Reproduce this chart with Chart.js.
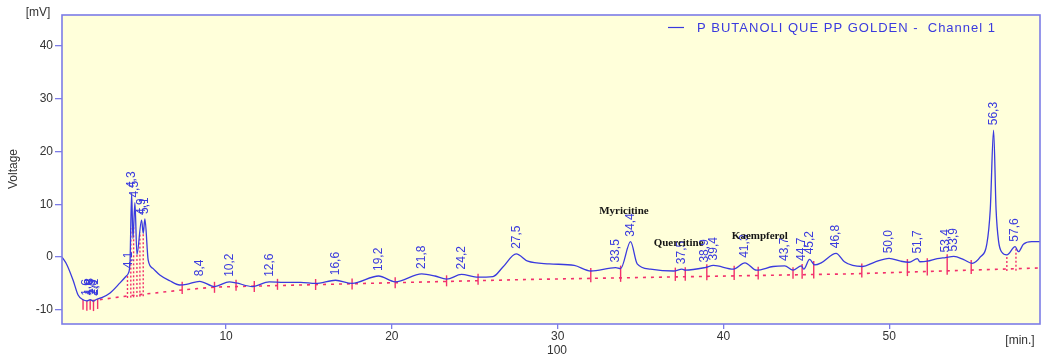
<!DOCTYPE html>
<html>
<head>
<meta charset="utf-8">
<script src="https://cdn.jsdelivr.net/npm/chart.js@4.4.1/dist/chart.umd.min.js"></script>
<style>
  html, body { margin: 0; padding: 0; background: #ffffff; }
  canvas { display: block; }
</style>
</head>
<body>
<canvas id="chrom" width="1042" height="358"></canvas>
<script>
// Channel name shown in the legend
const seriesName = 'P BUTANOLI QUE PP GOLDEN -  Channel 1';

// Detector signal: retention time [min] and voltage [mV]
const traceTime = [
  0.1, 0.4, 0.77, 1.07, 1.37, 1.6, 1.8, 2.0, 2.2, 2.5, 3.0, 3.6, 3.95, 4.1, 4.2,
  4.3, 4.38, 4.5, 4.62, 4.9, 5.0, 5.1, 5.3, 5.6, 6.0, 6.6, 7.2, 7.6, 8.4, 9.3,
  10.2, 10.6, 11.6, 12.6, 13.5, 14.5, 15.4, 16.6, 17.6, 19.2, 20.2, 21.8, 22.6, 23.3, 24.2,
  25.1, 26.1, 26.7, 27.5, 28.2, 29.5, 31.0, 32.0, 33.5, 33.8, 34.4, 34.8, 35.6, 37.0, 37.5,
  37.7, 38.9, 39.4, 40.6, 41.3, 42.0, 43.0, 43.7, 44.2, 44.7, 44.85, 45.2, 45.5, 45.9, 46.8,
  47.3, 47.8, 48.4, 49.1, 50.0, 50.7, 51.2, 51.7, 51.85, 52.3, 52.9, 53.4, 53.9, 54.5, 55.0,
  55.5, 55.9, 56.1, 56.3, 56.45, 56.6, 56.8, 57.1, 57.6, 57.8, 58.1, 58.6, 59.1
];
const traceMv = [
  0.0, -1.5, -4.4, -7.2, -8.1, -8.3, -8.1, -8.35, -8.0, -7.7, -6.8, -4.9, -3.7, -3.1, -1.2,
  12.1, 3.5, 10.3, 0.5, 7.0, 4.5, 7.2, -0.6, -2.2, -3.4, -4.5, -5.3, -5.2, -4.6, -5.6,
  -4.7, -4.9, -5.6, -4.7, -4.8, -4.8, -5.0, -4.4, -5.0, -3.6, -4.7, -3.2, -3.6, -4.2, -3.3,
  -3.8, -3.7, -1.9, 0.6, -0.8, -1.3, -1.6, -2.65, -2.0, -2.2, 2.9, -1.3, -2.3, -2.65, -2.3,
  -2.5, -2.0, -1.6, -2.3, -1.1, -2.5, -1.8, -1.7, -2.5, -1.7, -2.3, -0.45, -1.5, -1.1, 0.7,
  -0.9, -1.6, -1.8, -1.0, -0.25, -0.8, -1.0, -0.3, -0.9, -0.8, -0.3, -0.1, 0.1, -0.5, -1.2,
  0.0, 2.6, 9.0, 24.0, 9.0, 3.0, 0.9, 0.4, 1.95, 1.0, 2.4, 2.9, 2.9
];

// Integrated peaks (retention times, labelled above the signal)
const peakTimes = [
  1.6, 1.8, 1.9, 2.0, 2.1, 4.1, 4.3, 4.5, 4.9, 5.1, 8.4, 10.2, 12.6, 16.6, 19.2, 21.8,
  24.2, 27.5, 33.5, 34.4, 37.5, 38.9, 39.4, 41.3, 43.7, 44.7, 45.2, 46.8, 50.0, 51.7,
  53.4, 53.9, 56.3, 57.6
];

// Integration baseline
const baseTime = [1.9, 4.0, 7.35, 9.3, 28.3, 47.6, 59.1];
const baseMv = [-8.3, -7.4, -6.25, -5.7, -4.25, -3.2, -2.08];

// Peak start/end marks
const cutTimes = [
  7.35, 9.3, 10.6, 11.7, 13.1, 15.4, 17.6, 20.2, 23.3, 25.2, 32.0, 33.8, 37.1, 37.7,
  39.0, 40.65, 42.1, 44.2, 44.75, 45.45, 48.35, 51.1, 52.3, 53.5, 54.95
];
// Dotted perpendicular drops between fused peaks
const dropTimes = [4.05, 4.25, 4.42, 4.62, 4.8, 5.0, 57.1, 57.65];
// Marks of the early cluster, drawn below the baseline
const startCuts = [1.37, 1.6, 1.8, 2.0, 2.25];

// Identified compounds
const compoundNames = ['Myricitine', 'Quercitine', 'Kaempferol'];

const yTicks = [-10, 0, 10, 20, 30, 40];
const xTicks = [10, 20, 30, 40, 50];

function interp(ts, vs, t) {
  if (t <= ts[0]) return vs[0];
  for (let i = 1; i < ts.length; i++) {
    if (t <= ts[i]) {
      const f = (t - ts[i - 1]) / (ts[i] - ts[i - 1]);
      return vs[i - 1] + f * (vs[i] - vs[i - 1]);
    }
  }
  return vs[vs.length - 1];
}

const RED = '#f2306c';
const BLUE = '#3a3ade';
const FRAME = '#7c7ce6';
const AXIS_TEXT = '#333333';

const compoundPlacement = [
  { t: 34.0, mv: 8.7 },
  { t: 37.3, mv: 2.65 },
  { t: 42.2, mv: 4.0 }
];

const chromPlugin = {
  id: 'chromDecor',
  beforeDraw(chart) {
    const { ctx, chartArea: a } = chart;
    ctx.save();
    ctx.fillStyle = '#ffffda';
    ctx.fillRect(a.left, a.top, a.right - a.left, a.bottom - a.top);
    ctx.restore();
  },
  beforeDatasetsDraw(chart) {
    const { ctx } = chart;
    const xs = chart.scales.x, ys = chart.scales.y;
    ctx.save();
    ctx.strokeStyle = RED;
    ctx.lineWidth = 1.4;
    // start/end marks spanning signal and baseline
    cutTimes.forEach(t => {
      const x = xs.getPixelForValue(t);
      const yt = ys.getPixelForValue(interp(traceTime, traceMv, t));
      const yb = ys.getPixelForValue(interp(baseTime, baseMv, t));
      let top = Math.min(yt, yb) - 3, bot = Math.max(yt, yb) + 4;
      if (bot - top < 11) { const m = (top + bot) / 2; top = m - 5.5; bot = m + 5.5; }
      ctx.beginPath(); ctx.moveTo(x, top); ctx.lineTo(x, bot); ctx.stroke();
    });
    // early cluster marks
    startCuts.forEach(t => {
      const x = xs.getPixelForValue(t);
      const y = ys.getPixelForValue(interp(traceTime, traceMv, t));
      ctx.beginPath(); ctx.moveTo(x, y); ctx.lineTo(x, y + 10); ctx.stroke();
    });
    // dotted drops
    ctx.setLineDash([2, 2]);
    dropTimes.forEach(t => {
      const x = xs.getPixelForValue(t);
      const yt = ys.getPixelForValue(interp(traceTime, traceMv, t));
      const yb = ys.getPixelForValue(interp(baseTime, baseMv, t));
      ctx.beginPath(); ctx.moveTo(x, yb + 2); ctx.lineTo(x, yt); ctx.stroke();
    });
    ctx.restore();
  },
  afterDatasetsDraw(chart) {
    const { ctx, chartArea: a } = chart;
    const xs = chart.scales.x, ys = chart.scales.y;
    ctx.save();
    // retention-time labels, rotated
    ctx.fillStyle = BLUE;
    ctx.font = '12px "Liberation Sans Narrow", sans-serif';
    ctx.textAlign = 'left';
    ctx.textBaseline = 'middle';
    peakTimes.forEach(t => {
      const x = xs.getPixelForValue(t);
      const y = ys.getPixelForValue(interp(traceTime, traceMv, t)) - 5;
      ctx.save();
      ctx.translate(x, y);
      ctx.rotate(-Math.PI / 2);
      ctx.fillText(t.toFixed(1).replace('.', ','), 0, 0);
      ctx.restore();
    });
    // compound names
    ctx.fillStyle = '#151515';
    ctx.font = 'bold 11px "Liberation Serif", "DejaVu Serif", serif';
    ctx.textAlign = 'center';
    compoundNames.forEach((name, i) => {
      const p = compoundPlacement[i];
      ctx.fillText(name, xs.getPixelForValue(p.t), ys.getPixelForValue(p.mv));
    });
    // legend
    ctx.strokeStyle = BLUE;
    ctx.lineWidth = 1.2;
    ctx.beginPath(); ctx.moveTo(668, 27.5); ctx.lineTo(684, 27.5); ctx.stroke();
    ctx.fillStyle = BLUE;
    ctx.font = '13px "Liberation Sans", Arial, sans-serif';
    ctx.letterSpacing = '1px';
    ctx.textAlign = 'left';
    ctx.fillText(seriesName, 697, 28);
    ctx.letterSpacing = '0px';
    // plot frame
    ctx.strokeStyle = FRAME;
    ctx.lineWidth = 1.6;
    ctx.strokeRect(a.left, a.top, a.right - a.left, a.bottom - a.top);
    ctx.restore();
  },
  afterDraw(chart) {
    const { ctx } = chart;
    ctx.save();
    ctx.fillStyle = AXIS_TEXT;
    ctx.font = '12px "Liberation Sans", Arial, sans-serif';
    ctx.textBaseline = 'middle';
    ctx.textAlign = 'center';
    ctx.fillText('[mV]', 38, 13);
    ctx.fillText('[min.]', 1020, 341);
    ctx.fillText('100', 557, 351);
    ctx.save();
    ctx.translate(14, 169);
    ctx.rotate(-Math.PI / 2);
    ctx.font = '12px "Liberation Sans Narrow", sans-serif';
    ctx.fillText('Voltage', 0, 0);
    ctx.restore();
    ctx.restore();
  }
};

new Chart(document.getElementById('chrom'), {
  type: 'line',
  data: {
    datasets: [
      {
        label: seriesName,
        data: traceTime.map((t, i) => ({ x: t, y: traceMv[i] })),
        borderColor: BLUE,
        borderWidth: 1.3,
        pointRadius: 0,
        cubicInterpolationMode: 'monotone',
        fill: false
      },
      {
        label: 'baseline',
        data: baseTime.map((t, i) => ({ x: t, y: baseMv[i] })),
        borderColor: RED,
        borderWidth: 1.6,
        borderDash: [3, 5],
        pointRadius: 0,
        tension: 0,
        fill: false
      }
    ]
  },
  options: {
    responsive: false,
    animation: false,
    devicePixelRatio: 1,
    layout: { padding: { top: 15, right: 2, left: 0, bottom: 0 } },
    plugins: { legend: { display: false }, tooltip: { enabled: false } },
    scales: {
      x: {
        type: 'linear',
        min: 0.1,
        max: 59.1,
        afterFit(s) { s.height = 34; },
        afterBuildTicks(s) { s.ticks = xTicks.map(v => ({ value: v })); },
        grid: { drawOnChartArea: false, drawTicks: true, tickLength: 5, color: FRAME, lineWidth: 1.3 },
        border: { display: false },
        ticks: { color: AXIS_TEXT, font: { family: '"Liberation Sans", Arial, sans-serif', size: 12 }, padding: 0, maxRotation: 0 }
      },
      y: {
        type: 'linear',
        min: -12.69,
        max: 45.83,
        afterFit(s) { s.width = 62; },
        afterBuildTicks(s) { s.ticks = yTicks.map(v => ({ value: v })); },
        grid: { drawOnChartArea: false, drawTicks: true, tickLength: 7, color: FRAME, lineWidth: 1.3 },
        border: { display: false },
        ticks: { color: AXIS_TEXT, font: { family: '"Liberation Sans", Arial, sans-serif', size: 12 }, padding: 2 }
      }
    }
  },
  plugins: [chromPlugin]
});
</script>
</body>
</html>
